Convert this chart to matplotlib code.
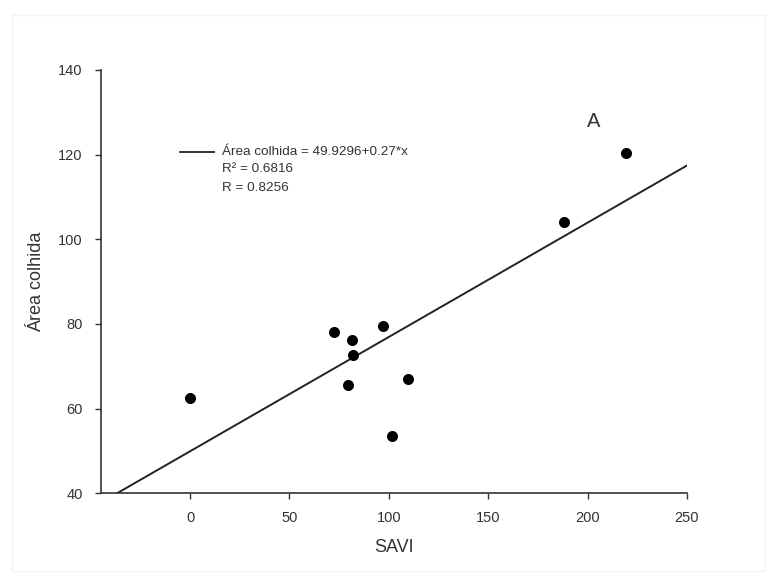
import numpy as np
import matplotlib.pyplot as plt
from matplotlib.patches import Rectangle

plt.rcParams['font.family'] = ['Liberation Sans', 'DejaVu Sans']

# SAVI vs harvested area
savi = [0.0, 72.3, 81.4, 97.1, 82.2, 79.2, 109.4, 101.8, 188.0, 219.4]
area = [62.5, 78.2, 76.3, 79.4, 72.7, 65.5, 67.0, 53.5, 104.0, 120.5]

intercept = 49.9296
slope = 0.27
r2 = 0.6816
r = 0.8256

xticks = [0, 50, 100, 150, 200, 250]
yticks = [40, 60, 80, 100, 120, 140]

fig = plt.figure(figsize=(7.77, 5.83), dpi=100)
fig.patches.append(Rectangle((0.016, 0.02), 0.968, 0.955, transform=fig.transFigure,
                             fill=False, edgecolor='#f3f3f3', lw=1))
ax = fig.add_axes([0.1296, 0.1539, 0.7545, 0.7261])

x_line = np.array([(40 - intercept) / slope, 250])
ax.plot(x_line, intercept + slope * x_line, color='#222222', lw=1.4)
ax.scatter(savi, area, s=48, color='black', zorder=3)

ax.set_xlim(-45, 250)
ax.set_ylim(40, 140)
ax.set_xticks(xticks)
ax.set_yticks(yticks)
ax.spines['top'].set_visible(False)
ax.spines['right'].set_visible(False)
for s in ['left', 'bottom']:
    ax.spines[s].set_color('#333333')
    ax.spines[s].set_linewidth(1.2)
ax.tick_params(direction='out', length=4, width=1, colors='#333333',
               labelsize=10.5, labelcolor='#333333', pad=9)

ax.set_xlabel('SAVI', fontsize=13, color='#333333', labelpad=10)
ax.set_ylabel('Área colhida', fontsize=13, color='#333333', labelpad=9)

# equation box
ax.plot([-5, 12], [120.7, 120.7], color='#222222', lw=1.3, clip_on=False)
ax.text(16, 120.7, f'Área colhida = {intercept}+{slope}*x', fontsize=9.7,
        color='#333333', va='center')
ax.text(16, 116.5, f'R² = {r2}', fontsize=9.7, color='#333333', va='center')
ax.text(16, 112.2, f'R = {r}', fontsize=9.7, color='#333333', va='center')

ax.text(203, 127.8, 'A', fontsize=14.5, color='#333333', ha='center', va='center')

fig.savefig('out.png', dpi=100)
